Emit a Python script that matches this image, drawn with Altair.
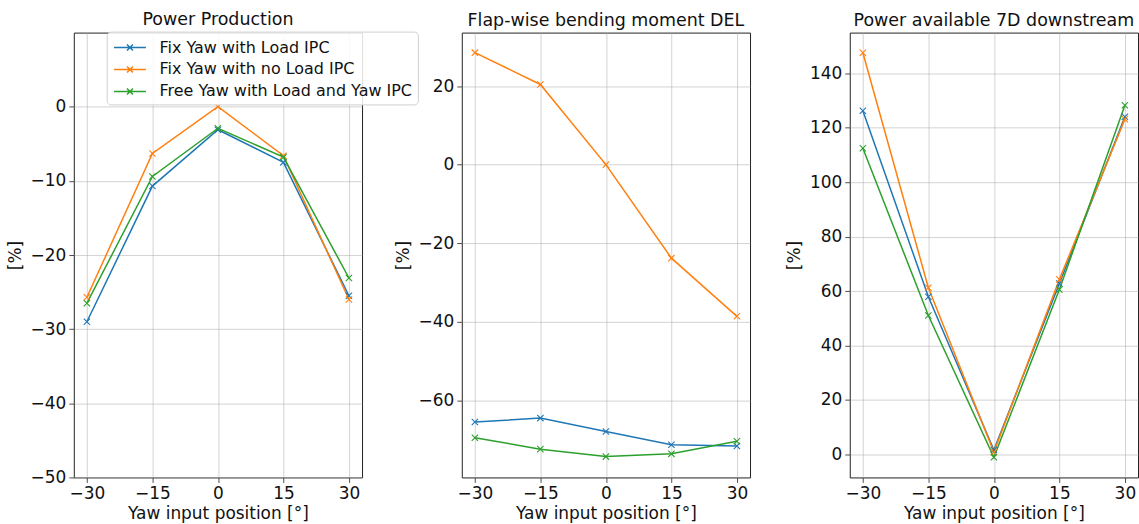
import altair as alt
import pandas as pd

yaw = [-30, -15, 0, 15, 30]
series = ["Fix Yaw with Load IPC", "Fix Yaw with no Load IPC", "Free Yaw with Load and Yaw IPC"]
colors = ["#1f77b4", "#ff7f0e", "#2ca02c"]

# Power Production [%]
power_fix_load = [-29.0, -10.7, -3.1, -7.5, -25.5]
power_fix_noload = [-25.7, -6.3, 0.0, -6.6, -26.0]
power_free = [-26.5, -9.4, -2.9, -6.8, -23.1]

# Flap-wise bending moment DEL [%]
del_fix_load = [-65.5, -64.5, -67.9, -71.3, -71.6]
del_fix_noload = [28.5, 20.4, 0.0, -23.8, -38.6]
del_free = [-69.5, -72.4, -74.3, -73.6, -70.4]

# Power available 7D downstream [%]
down_fix_load = [126.3, 57.9, 1.6, 62.8, 124.1]
down_fix_noload = [147.6, 61.2, 0.8, 64.3, 123.2]
down_free = [112.5, 51.0, -1.1, 60.6, 128.3]

titles = ["Power Production", "Flap-wise bending moment DEL", "Power available 7D downstream"]
y_domains = [[-50, 10], [-79.6, 33.6], [-8.5, 155.0]]
y_ticks = [[-50, -40, -30, -20, -10, 0], [-60, -40, -20, 0, 20], [0, 20, 40, 60, 80, 100, 120, 140]]
panel_data = [
    [power_fix_load, power_fix_noload, power_free],
    [del_fix_load, del_fix_noload, del_free],
    [down_fix_load, down_fix_noload, down_free],
]

FONT = "DejaVu Sans"
xmark = "M-1,-1L1,1M-1,1L1,-1"
legend_symbol = "M-0.87,0L2.33,0M0.43,-0.3L1.03,0.3M0.43,0.3L1.03,-0.3"
MINUS = "replace(datum.label, '-', '\u2212')"


def make_panel(i):
    rows = []
    for s, vals in zip(series, panel_data[i]):
        for x, v in zip(yaw, vals):
            rows.append({"yaw": x, "series": s, "value": v})
    df = pd.DataFrame(rows)
    if i == 0:
        legend = alt.Legend(
            title=None, orient="none", legendX=33, legendY=-1,
            symbolType=legend_symbol, symbolSize=400, symbolStrokeWidth=1.5,
            labelFont=FONT, labelFontSize=16, labelColor="#111",
            labelOffset=26, rowPadding=3, padding=5,
            fillColor="rgba(255,255,255,0.85)", strokeColor="#d0d0d0", cornerRadius=4,
            labelLimit=400,
        )
    else:
        legend = None
    color = alt.Color("series:N", scale=alt.Scale(domain=series, range=colors), legend=legend)
    x = alt.X("yaw:Q", title="Yaw input position [°]",
              scale=alt.Scale(domain=[-33, 33], nice=False, zero=False),
              axis=alt.Axis(values=yaw, titlePadding=4, labelExpr=MINUS))
    y = alt.Y("value:Q", title="[%]",
              scale=alt.Scale(domain=y_domains[i], nice=False, zero=False),
              axis=alt.Axis(values=y_ticks[i], titlePadding=6, labelExpr=MINUS))
    base = alt.Chart(df).encode(x=x, y=y, color=color)
    line = base.mark_line(strokeWidth=1.5)
    pts = base.mark_point(shape=xmark, size=40, filled=False, strokeWidth=1.1, opacity=1)
    return alt.layer(line, pts).properties(
        width=289, height=446,
        title=alt.TitleParams(titles[i], font=FONT, fontSize=17.5, fontWeight="normal",
                              color="#111", offset=3, anchor="middle"),
    )


charts = [make_panel(i) for i in range(3)]
chart = alt.hconcat(*charts, spacing=100, bounds="flush").resolve_scale(
    color="independent", y="independent"
).properties(
    padding={"left": 5, "top": 9, "right": 0, "bottom": 0}
).configure_view(
    stroke="#222", strokeWidth=1
).configure_axis(
    labelFont=FONT, labelFontSize=17, labelColor="#111",
    titleFont=FONT, titleFontSize=17, titleFontWeight="normal", titleColor="#111",
    grid=True, gridColor="#b0b0b0", gridOpacity=0.7, gridWidth=0.8,
    domain=False, tickColor="#222", tickSize=5, tickWidth=0.8, labelPadding=3,
    labelFlush=False, labelOverlap=False,
)

chart.save("out.html", embed_options={"renderer": "svg", "actions": False})
